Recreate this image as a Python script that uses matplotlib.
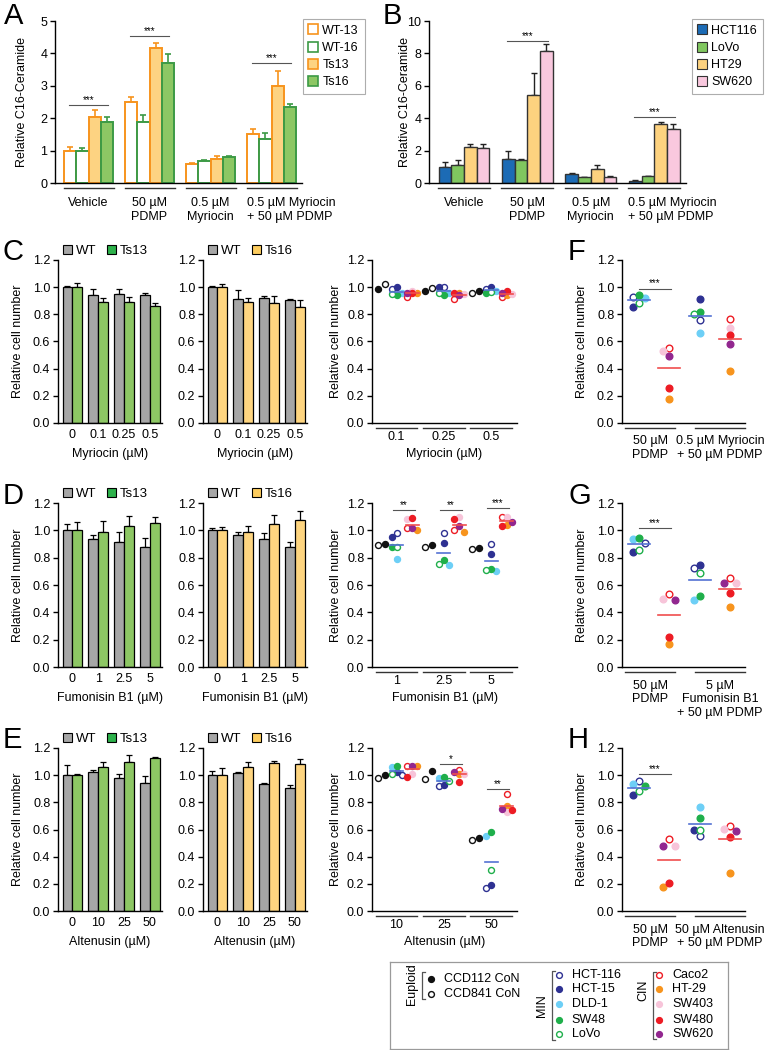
import numpy as np
import matplotlib
matplotlib.use('Agg')
import matplotlib.pyplot as plt
from matplotlib.lines import Line2D
from matplotlib.patches import Patch
from matplotlib.ticker import FormatStrFormatter

plt.rcParams['font.family'] = ['Liberation Sans', 'DejaVu Sans']
plt.rcParams['font.size'] = 9
plt.rcParams['axes.linewidth'] = 1.0

W, H = 768, 1050

# ---------- A / B: relative C16-ceramide ----------
treatments = ['Vehicle', '50 µM\nPDMP', '0.5 µM\nMyriocin', '0.5 µM Myriocin\n+ 50 µM PDMP']

a_series = ['WT-13', 'WT-16', 'Ts13', 'Ts16']
a_means = [[1.0, 2.5, 0.6, 1.5],
           [1.0, 1.88, 0.67, 1.37],
           [2.05, 4.17, 0.75, 3.0],
           [1.88, 3.7, 0.8, 2.35]]
a_errs = [[0.12, 0.15, 0.03, 0.16],
          [0.08, 0.22, 0.05, 0.18],
          [0.2, 0.15, 0.08, 0.45],
          [0.15, 0.27, 0.03, 0.1]]
a_stars = [(0, 2.42), (1, 4.53), (3, 3.69)]

b_series = ['HCT116', 'LoVo', 'HT29', 'SW620']
b_means = [[1.0, 1.5, 0.55, 0.14],
           [1.13, 1.45, 0.35, 0.41],
           [2.21, 5.43, 0.86, 3.63],
           [2.19, 8.16, 0.35, 3.34]]
b_errs = [[0.29, 0.49, 0.05, 0.04],
          [0.3, 0.03, 0.04, 0.05],
          [0.2, 1.35, 0.23, 0.16],
          [0.2, 0.44, 0.08, 0.29]]
b_stars = [(1, 8.77), (3, 4.1)]

# ---------- C / D / E: bar panels ----------
myr_doses = ['0', '0.1', '0.25', '0.5']
fb1_doses = ['0', '1', '2.5', '5']
alt_doses = ['0', '10', '25', '50']

c1_wt = [1.0, 0.94, 0.947, 0.944]
c1_wt_err = [0.005, 0.05, 0.043, 0.01]
c1_ts = [1.0, 0.893, 0.893, 0.864]
c1_ts_err = [0.03, 0.024, 0.034, 0.017]
c2_wt = [1.0, 0.91, 0.917, 0.905]
c2_wt_err = [0.005, 0.068, 0.02, 0.01]
c2_ts = [1.0, 0.89, 0.886, 0.854]
c2_ts_err = [0.02, 0.032, 0.048, 0.05]

d1_wt = [1.0, 0.934, 0.915, 0.878]
d1_wt_err = [0.045, 0.035, 0.075, 0.065]
d1_ts = [1.0, 0.99, 1.03, 1.055]
d1_ts_err = [0.06, 0.075, 0.072, 0.045]
d2_wt = [1.0, 0.966, 0.934, 0.878]
d2_wt_err = [0.02, 0.025, 0.045, 0.04]
d2_ts = [1.0, 0.99, 1.045, 1.075]
d2_ts_err = [0.025, 0.045, 0.065, 0.07]

e1_wt = [1.0, 1.02, 0.98, 0.943]
e1_wt_err = [0.075, 0.017, 0.028, 0.05]
e1_ts = [1.0, 1.063, 1.095, 1.125]
e1_ts_err = [0.005, 0.032, 0.055, 0.01]
e2_wt = [1.0, 1.013, 0.938, 0.905]
e2_wt_err = [0.03, 0.008, 0.003, 0.02]
e2_ts = [1.0, 1.063, 1.093, 1.08]
e2_ts_err = [0.05, 0.032, 0.012, 0.04]

# ---------- cell lines ----------
cell_lines = ['CCD112 CoN', 'CCD841 CoN',
              'HCT-116', 'HCT-15', 'DLD-1', 'SW48', 'LoVo',
              'Caco2', 'HT-29', 'SW403', 'SW480', 'SW620']
cell_colors = ['#111111', '#111111',
               '#2E3192', '#2E3192', '#6DCFF6', '#1FAF4B', '#1FAF4B',
               '#ED1C24', '#F7941D', '#F7C4D9', '#ED1C24', '#92278F']
cell_open = [False, True,
             True, False, False, False, True,
             True, False, False, False, False]

c3_vals = [[0.985, 1.024, 0.99, 1.0, 0.96, 0.94, 0.95, 0.925, 0.96, 0.975, 0.955, 0.96],
           [0.975, 0.995, 1.0, 1.0, 0.96, 0.945, 0.955, 0.91, 0.96, 0.95, 0.955, 0.94],
           [0.97, 0.96, 0.99, 1.0, 0.97, 0.96, 0.965, 0.93, 0.94, 0.95, 0.975, 0.955]]
d3_vals = [[0.90, 0.89, 0.98, 0.95, 0.79, 0.88, 0.88, 1.02, 1.0, 1.08, 1.09, 1.02],
           [0.89, 0.875, 0.98, 0.91, 0.75, 0.78, 0.755, 1.0, 0.99, 1.1, 1.08, 1.03],
           [0.87, 0.86, 0.90, 0.83, 0.70, 0.72, 0.71, 1.1, 1.04, 1.1, 1.03, 1.06]]
e3_vals = [[1.0, 0.98, 1.0, 1.02, 1.06, 1.07, 1.01, 1.07, 1.07, 1.01, 0.99, 1.07],
           [1.03, 0.97, 0.92, 0.93, 0.98, 0.99, 0.96, 1.04, 1.01, 1.01, 0.95, 1.02],
           [0.54, 0.52, 0.17, 0.19, 0.55, 0.58, 0.30, 0.86, 0.77, 0.73, 0.74, 0.75]]
d3_stars = [(0, 1.15, '**'), (1, 1.15, '**'), (2, 1.16, '***')]
e3_stars = [(1, 1.08, '*'), (2, 0.90, '**')]

# ---------- F / G / H: MIN vs CIN ----------
f_min = [[0.93, 0.855, 0.92, 0.94, 0.88], [0.76, 0.91, 0.665, 0.815, 0.805]]
f_cin = [[0.55, 0.18, 0.53, 0.26, 0.49], [0.765, 0.38, 0.70, 0.65, 0.58]]
g_min = [[0.91, 0.843, 0.934, 0.945, 0.853], [0.724, 0.75, 0.49, 0.52, 0.685]]
g_cin = [[0.533, 0.165, 0.50, 0.218, 0.493], [0.65, 0.44, 0.613, 0.54, 0.617]]
h_min = [[0.955, 0.852, 0.933, 0.918, 0.882], [0.549, 0.593, 0.762, 0.681, 0.60]]
h_cin = [[0.527, 0.179, 0.48, 0.203, 0.48], [0.625, 0.277, 0.607, 0.546, 0.59]]
f_labels = ['50 µM\nPDMP', '0.5 µM Myriocin\n+ 50 µM PDMP']
g_labels = ['50 µM\nPDMP', '5 µM\nFumonisin B1\n+ 50 µM PDMP']
h_labels = ['50 µM\nPDMP', '50 µM Altenusin\n+ 50 µM PDMP']

ORANGE = '#F7941D'
DGREEN = '#3C9A45'
GRAY = '#A6A6A6'
LGREEN = '#8DC764'
YELLOW = '#FED580'
MIN_LINE = '#5472D3'
CIN_LINE = '#F04E4E'

fig = plt.figure(figsize=(7.68, 10.5), dpi=100)


def add_ax(l, t, r, b):
    return fig.add_axes([l / W, 1 - b / H, (r - l) / W, (b - t) / H])


def style(ax, ymax, step, fmt='%.1f'):
    ax.spines['top'].set_visible(False)
    ax.spines['right'].set_visible(False)
    ax.set_ylim(0, ymax)
    ax.set_yticks(np.arange(0, ymax + 1e-9, step))
    ax.yaxis.set_major_formatter(FormatStrFormatter(fmt))
    ax.tick_params(axis='y', length=3.5, width=1.0, labelsize=9, pad=2)
    ax.tick_params(axis='x', length=0, labelsize=9)


def ylabel_at(ax, text, x_px):
    pos = ax.get_position()
    ax.set_ylabel(text, fontsize=9)
    ax.yaxis.set_label_coords((x_px / W - pos.x0) / pos.width, 0.5)


def xlabel_at(ax, text, below_px):
    pos = ax.get_position()
    ax.set_xlabel(text, fontsize=9, va='top')
    ax.xaxis.set_label_coords(0.5, -below_px / (pos.height * H))


def underline(ax, centers, hw):
    tr = ax.get_xaxis_transform()
    for c in centers:
        ax.plot([c - hw, c + hw], [-0.032, -0.032], color='#333333', lw=1.0,
                transform=tr, clip_on=False)


def star(ax, x0, x1, y, s):
    ax.plot([x0, x1], [y, y], color='#555555', lw=0.8, zorder=2)
    ax.text((x0 + x1) / 2, y, s, ha='center', va='bottom', fontsize=7)


def px_scale(ax):
    pos = ax.get_position()
    x0, x1 = ax.get_xlim()
    y0, y1 = ax.get_ylim()
    return pos.width * W / (x1 - x0), pos.height * H / (y1 - y0)


def dot(ax, x, y, k, ms):
    c = cell_colors[k]
    ax.plot([x], [y], 'o', ms=ms, mfc='white' if cell_open[k] else c, mec=c,
            mew=1.0, zorder=3, clip_on=False)


def swarm_offsets(vals, sy, step, dmin):
    xs = np.zeros(len(vals))
    placed = []
    for i in np.argsort(vals)[::-1]:
        y = vals[i] * sy
        best, best_d = 0.0, -1.0
        for off in (0.0, -step, step):
            d = min([np.hypot(off - px, y - py) for px, py in placed], default=99.0)
            if d >= dmin:
                best = off
                break
            if d > best_d:
                best, best_d = off, d
        xs[i] = best
        placed.append((best, y))
    return xs


def cluster(ax, xc, vals, idx, line_col, hw_px, ms, step):
    sx, sy = px_scale(ax)
    vals = np.asarray(vals, float)
    offs = swarm_offsets(vals, sy, step, step + 0.5)
    for v, o, k in zip(vals, offs, idx):
        dot(ax, xc + o / sx, v, k, ms)
    m = vals.mean()
    ax.plot([xc - hw_px / sx, xc + hw_px / sx], [m, m], color=line_col, lw=1.2, zorder=4)


def treatment_axis(ax, x):
    # last label starts at its group line, like the reference
    ax.set_xlim(-0.55, 3.5)
    ax.set_xticks([0, 1, 2, 3 - 0.41])
    ax.set_xticklabels(treatments)
    ax.get_xticklabels()[3].set_ha('left')
    ax.tick_params(axis='x', pad=10)
    underline(ax, x, 0.41)


def box_legend(ax, handles, labels, x_px):
    leg = ax.legend(handles, labels, loc='upper left', bbox_to_anchor=(x_px / W, 1 - 19 / H),
                    bbox_transform=fig.transFigure, fancybox=False, edgecolor='#999999',
                    fontsize=9, handlelength=0.7, handletextpad=0.4, labelspacing=0.42,
                    borderpad=0.45, borderaxespad=0)
    leg.get_frame().set_linewidth(0.8)


# ---------- A ----------
ax = add_ax(55, 21, 302, 183)
style(ax, 5, 1, '%d')
x = np.arange(4)
bw = 0.2
a_fill = ['white', 'white', '#FDD382', LGREEN]
a_edge = [ORANGE, DGREEN, ORANGE, DGREEN]
for i in range(4):
    ax.bar(x + (i - 1.5) * bw, a_means[i], bw, color=a_fill[i], edgecolor=a_edge[i],
           linewidth=1.4, zorder=2)
    ax.errorbar(x + (i - 1.5) * bw, a_means[i], yerr=[np.zeros(4), a_errs[i]], fmt='none',
                ecolor=a_edge[i], elinewidth=1.2, capsize=2.5, capthick=1.2, zorder=1)
treatment_axis(ax, x)
for g, y in a_stars:
    star(ax, g - 0.32, g + 0.32, y, '***')
ylabel_at(ax, 'Relative C16-Ceramide', 28)
handles = [Line2D([], [], ls='none', marker='s', ms=6.5, mfc=f, mec=e, mew=1.2)
           for f, e in zip(a_fill, a_edge)]
box_legend(ax, handles, a_series, 303)

# ---------- B ----------
ax = add_ax(429, 21, 686, 183)
style(ax, 10, 2, '%d')
b_fill = ['#1C6BB5', '#80C75F', '#FDD27F', '#F9C8DE']
for i in range(4):
    ax.bar(x + (i - 1.5) * bw, b_means[i], bw, color=b_fill[i], edgecolor='#333333',
           linewidth=1.0, zorder=2)
    ax.errorbar(x + (i - 1.5) * bw, b_means[i], yerr=[np.zeros(4), b_errs[i]], fmt='none',
                ecolor='#222222', elinewidth=1.0, capsize=2.5, capthick=1.0, zorder=1)
treatment_axis(ax, x)
for g, y in b_stars:
    star(ax, g - 0.32, g + 0.32, y, '***')
ylabel_at(ax, 'Relative C16-Ceramide', 411)
handles = [Line2D([], [], ls='none', marker='s', ms=6.5, mfc=f, mec='#333333', mew=0.8)
           for f in b_fill]
box_legend(ax, handles, b_series, 692)


# ---------- bar rows ----------
def dose_bars(ax, wt, wt_err, ts, ts_err, ts_color, leg_color, ts_name, doses, xlabel, ylabel):
    style(ax, 1.2, 0.2)
    x = np.arange(len(doses))
    bw = 0.375
    for vals, errs, col, off in ((wt, wt_err, GRAY, -bw / 2), (ts, ts_err, ts_color, bw / 2)):
        ax.bar(x + off, vals, bw, color=col, edgecolor='black', linewidth=0.9, zorder=2)
        ax.errorbar(x + off, vals, yerr=[np.zeros(len(vals)), errs], fmt='none',
                    ecolor='black', elinewidth=0.9, capsize=2.2, capthick=0.9, zorder=1)
    ax.set_xlim(-0.55, 3.47)
    ax.set_xticks(x)
    ax.set_xticklabels(doses)
    ax.tick_params(axis='x', pad=4)
    xlabel_at(ax, xlabel, 25)
    if ylabel:
        ylabel_at(ax, 'Relative cell number', 24)
    handles = [Patch(facecolor=GRAY, edgecolor='black', linewidth=0.8),
               Patch(facecolor=leg_color, edgecolor='black', linewidth=0.8)]
    ax.legend(handles, ['WT', ts_name], loc='lower left', bbox_to_anchor=(0.02, 1.0),
              ncol=2, frameon=False, fontsize=9.5, handlelength=0.7, handleheight=0.7,
              handletextpad=0.3, columnspacing=0.8, borderpad=0, borderaxespad=0.2)


def scatter_row(ax, vals, doses, xlabel, stars):
    style(ax, 1.2, 0.2)
    n = len(vals)
    ax.set_xlim(-0.52, n - 1 + 0.55)
    sx, sy = px_scale(ax)
    for g, v in enumerate(vals):
        v = np.asarray(v, float)
        xe = g - 15.5 / sx
        left = 0 if v[0] <= v[1] else 1
        for k in range(2):
            o = -3.5 if k == left else 3.5
            dot(ax, xe + o / sx, v[k], k, 4.3)
        cluster(ax, g, v[2:7], range(2, 7), MIN_LINE, 6.5, 4.3, 5.0)
        cluster(ax, g + 15.5 / sx, v[7:12], range(7, 12), CIN_LINE, 6.5, 4.3, 5.0)
    for g, y, s in stars:
        star(ax, g - 4 / sx, g + 18 / sx, y, s)
    ax.set_xticks(np.arange(n))
    ax.set_xticklabels(doses)
    ax.tick_params(axis='x', pad=5.5)
    underline(ax, np.arange(n), 0.44)
    xlabel_at(ax, xlabel, 25)
    ylabel_at(ax, 'Relative cell number', 342)


def ratio_panel(ax, mins, cins, labels, star_y):
    style(ax, 1.2, 0.2)
    ax.set_xlim(-0.56, 3.5)
    for g in range(2):
        cluster(ax, 2 * g, mins[g], range(2, 7), MIN_LINE, 11, 4.8, 6.0)
        cluster(ax, 2 * g + 1, cins[g], range(7, 12), CIN_LINE, 11, 4.8, 6.0)
    centers = [0.375, 2.675]
    underline(ax, centers, 0.825)
    ax.set_xticks(centers)
    ax.set_xticklabels(labels)
    ax.tick_params(axis='x', pad=9)
    star(ax, 0, 1.05, star_y, '***')
    ylabel_at(ax, 'Relative cell number', 588)


rows = [(260, 423), (503, 667), (748, 911)]

t, b = rows[0]
dose_bars(add_ax(58, t, 162, b), c1_wt, c1_wt_err, c1_ts, c1_ts_err, LGREEN, '#2DB14B', 'Ts13',
          myr_doses, 'Myriocin (µM)', True)
dose_bars(add_ax(203, t, 307, b), c2_wt, c2_wt_err, c2_ts, c2_ts_err, YELLOW, '#FDCD5F', 'Ts16',
          myr_doses, 'Myriocin (µM)', False)
scatter_row(add_ax(372, t, 517, b), c3_vals, myr_doses[1:], 'Myriocin (µM)', [])
ratio_panel(add_ax(622, t, 745, b), f_min, f_cin, f_labels, 0.99)

t, b = rows[1]
dose_bars(add_ax(58, t, 162, b), d1_wt, d1_wt_err, d1_ts, d1_ts_err, LGREEN, '#2DB14B', 'Ts13',
          fb1_doses, 'Fumonisin B1 (µM)', True)
dose_bars(add_ax(203, t, 307, b), d2_wt, d2_wt_err, d2_ts, d2_ts_err, YELLOW, '#FDCD5F', 'Ts16',
          fb1_doses, 'Fumonisin B1 (µM)', False)
scatter_row(add_ax(372, t, 517, b), d3_vals, fb1_doses[1:], 'Fumonisin B1 (µM)', d3_stars)
ratio_panel(add_ax(622, t, 745, b), g_min, g_cin, g_labels, 1.02)

t, b = rows[2]
dose_bars(add_ax(58, t, 162, b), e1_wt, e1_wt_err, e1_ts, e1_ts_err, LGREEN, '#2DB14B', 'Ts13',
          alt_doses, 'Altenusin (µM)', True)
dose_bars(add_ax(203, t, 307, b), e2_wt, e2_wt_err, e2_ts, e2_ts_err, YELLOW, '#FDCD5F', 'Ts16',
          alt_doses, 'Altenusin (µM)', False)
scatter_row(add_ax(372, t, 517, b), e3_vals, alt_doses[1:], 'Altenusin (µM)', e3_stars)
ratio_panel(add_ax(622, t, 745, b), h_min, h_cin, h_labels, 1.01)

# ---------- panel letters ----------
for s, xp, yp in [('A', 4, 2), ('B', 383, 2), ('C', 3, 238), ('D', 3, 482), ('E', 3, 726),
                  ('F', 568, 238), ('G', 568, 482), ('H', 568, 726)]:
    fig.text(xp / W, 1 - yp / H, s, fontsize=21, va='top', ha='left')

# ---------- cell line legend ----------
lax = fig.add_axes([390 / W, 1 - 1049 / H, 338 / W, 87 / H])
lax.set_xlim(0, 338)
lax.set_ylim(87, 0)
lax.set_xticks([])
lax.set_yticks([])
for sp in lax.spines.values():
    sp.set_color('#9A9A9A')
    sp.set_linewidth(0.9)

legend_groups = [('Euploid', 22, 22, 31.7, 10, 37, 40.7, 54, [0, 1], [17, 32.3]),
                 ('MIN', 152, 44, 161.7, 9, 78, 169.3, 181.7, [2, 3, 4, 5, 6],
                  [13, 27.3, 42.3, 58, 72.3]),
                 ('CIN', 253, 28, 262.7, 10, 77, 269.3, 282.3, [7, 8, 9, 10, 11],
                  [13, 27.3, 42.3, 58, 72.3])]
for name, tx, ty, bx, by0, by1, mx, lx, idx, ys in legend_groups:
    lax.text(tx, ty, name, rotation=90, ha='center', va='center', fontsize=9)
    lax.plot([bx + 3, bx, bx, bx + 3], [by0, by0, by1, by1], color='#555555', lw=0.9)
    for k, y in zip(idx, ys):
        dot(lax, mx, y, k, 4.2)
        lax.text(lx, y, cell_lines[k], ha='left', va='center', fontsize=9)

fig.savefig('out.png', dpi=100)
